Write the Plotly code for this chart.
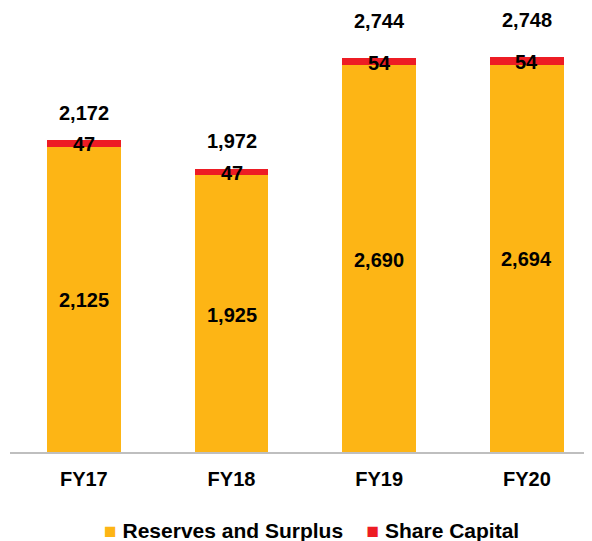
import plotly.graph_objects as go

categories = ["FY17", "FY18", "FY19", "FY20"]
reserves = [2125, 1925, 2690, 2694]
share_capital = [47, 47, 54, 54]
totals = [2172, 1972, 2744, 2748]
total_labels = ["2,172", "1,972", "2,744", "2,748"]
reserve_labels = ["2,125", "1,925", "2,690", "2,694"]
share_labels = ["47", "47", "54", "54"]
series_names = ["Reserves and Surplus", "Share Capital"]
total_shift = [27, 28, 37, 37]

ORANGE = "#FDB515"
RED = "#ED1C24"
FONT = "Liberation Sans, Arial, sans-serif"

fig = go.Figure()
fig.add_trace(go.Bar(x=categories, y=reserves, name=series_names[0],
                     marker=dict(color=ORANGE, line=dict(width=0)), width=0.5))
fig.add_trace(go.Bar(x=categories, y=share_capital, name=series_names[1],
                     marker=dict(color=RED, line=dict(width=0)), width=0.5))

lab_font = dict(size=20, color="black", family=FONT)
for i, c in enumerate(categories):
    fig.add_annotation(x=c, y=reserves[i] / 2, text="<b>%s</b>" % reserve_labels[i],
                       showarrow=False, font=lab_font, yshift=-1)
    fig.add_annotation(x=c, y=reserves[i] + share_capital[i] / 2, text="<b>%s</b>" % share_labels[i],
                       showarrow=False, font=lab_font, yshift=-1)
    fig.add_annotation(x=c, y=totals[i], text="<b>%s</b>" % total_labels[i],
                       showarrow=False, font=lab_font, yshift=total_shift[i], borderpad=0)

# legend drawn as text with coloured squares
legend_text = ("<b><span style='color:%s'>■</span> %s&nbsp;&nbsp;&nbsp;&nbsp;"
               "<span style='color:%s'>■</span> %s</b>") % (ORANGE, series_names[0], RED, series_names[1])
fig.add_annotation(xref="paper", yref="paper", x=0.511, y=-0.177, xanchor="center", yanchor="middle",
                   text=legend_text, showarrow=False, font=dict(size=21, color="black", family=FONT))

fig.update_layout(
    barmode="stack",
    width=592, height=541,
    margin=dict(l=2, r=0, t=0, b=97),
    plot_bgcolor="white", paper_bgcolor="white",
    font=dict(family=FONT, size=20, color="black"),
    showlegend=False,
    xaxis=dict(range=[-0.5, 3.495], showline=True, linecolor="#BFBFBF", linewidth=2,
               ticks="", tickfont=dict(size=20, family=FONT, color="black"),
               tickprefix="<b>", ticksuffix="</b>", showgrid=False, ticklabelstandoff=8),
    yaxis=dict(range=[0, 3090], visible=False, showgrid=False),
)

fig.write_html("out.html")
